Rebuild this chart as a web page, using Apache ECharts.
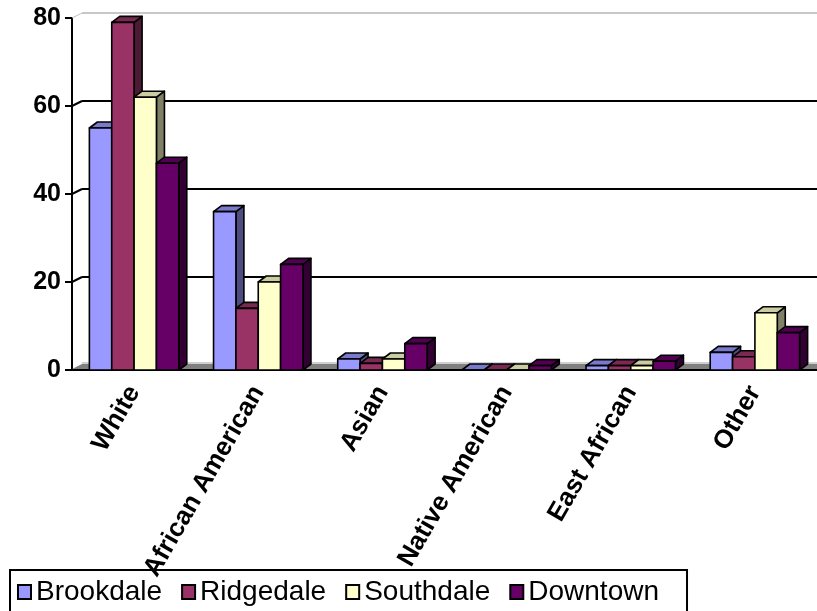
<!DOCTYPE html>
<html>
<head>
<meta charset="utf-8">
<script src="https://cdn.jsdelivr.net/npm/echarts@6/dist/echarts.min.js"></script>
<style>
  html, body { margin: 0; padding: 0; background: #fff; }
  #chart { width: 817px; height: 611px; }
</style>
</head>
<body>
<div id="chart"></div>
<script>
// data
const categories = ['White', 'African American', 'Asian', 'Native American', 'East African', 'Other'];
const brookdale = [55, 36, 2.5, 0, 1, 4];
const ridgedale = [79, 14, 1.5, 0, 1, 3];
const southdale = [62, 20, 2.5, 0, 1, 13];
const downtown = [47, 24, 6, 1, 2, 8.5];
const yTicks = [0, 20, 40, 60, 80];

const FONT = '"Liberation Sans", Arial, sans-serif';
const BAR_FRAC = 0.18;   // width of one bar as part of the category band
const DX = 8, DY = 6;    // bar depth
const WX = 10, WY = 5;   // wall depth

// colours: front / top / side
const districts = [
  { name: 'Brookdale', data: brookdale, front: '#9999FF', top: '#7A7ACC', side: '#4D4D80' },
  { name: 'Ridgedale', data: ridgedale, front: '#993366', top: '#7A2952', side: '#4D1A33' },
  { name: 'Southdale', data: southdale, front: '#FFFFCC', top: '#CCCCA3', side: '#808066' },
  { name: 'Downtown', data: downtown, front: '#660066', top: '#520052', side: '#330033' }
];

const chart = echarts.init(document.getElementById('chart'));

function barRenderer(idx, d){
  return function(params, api){
    const ci = api.value(0);
    const v = api.value(1);
    const band = api.size([1, 0])[0];
    const w = band * BAR_FRAC;
    const pt = api.coord([ci, v]);
    const base = api.coord([ci, 0]);
    const x = pt[0] - 2 * w + idx * w;
    const yt = pt[1], yb = base[1];
    const stroke = { stroke: '#000', lineWidth: 1.6, lineJoin: 'round' };
    return {
      type: 'group',
      children: [
        { type: 'polygon', shape: { points: [[x + w, yt], [x + w + DX, yt - DY], [x + w + DX, yb - DY], [x + w, yb]] },
          style: Object.assign({ fill: d.side }, stroke) },
        { type: 'polygon', shape: { points: [[x, yt], [x + DX, yt - DY], [x + w + DX, yt - DY], [x + w, yt]] },
          style: Object.assign({ fill: d.top }, stroke) },
        { type: 'rect', shape: { x: x, y: yt, width: w, height: yb - yt },
          style: Object.assign({ fill: d.front }, stroke) }
      ]
    };
  };
}

// floor and the little wall connectors on the left
function floorRenderer(params, api){
  const band = api.size([1, 0])[0];
  const p0 = api.coord([0, 0]);
  const p1 = api.coord([categories.length - 1, 0]);
  const xl = p0[0] - band / 2, xr = p1[0] + band / 2 + 20;
  const y0 = p0[1] - 1;
  const children = [
    { type: 'polygon', shape: { points: [[xl, y0], [xl + WX, y0 - WY], [xr + WX, y0 - WY], [xr, y0]] },
      style: { fill: '#808080', stroke: null } },
    { type: 'line', shape: { x1: xl + WX, y1: y0 - WY - 1, x2: xr + WX, y2: y0 - WY - 1 },
      style: { stroke: '#C0C0C0', lineWidth: 1.5 } }
  ];
  yTicks.forEach(t => {
    if (t === 0) return;
    const y = api.coord([0, t])[1];
    const last = t === yTicks[yTicks.length - 1];
    children.push({ type: 'line', shape: { x1: xl, y1: y, x2: xl + WX, y2: y - WY },
      style: { stroke: last ? '#C0C0C0' : '#000', lineWidth: last ? 1 : 2 } });
  });
  return { type: 'group', children: children };
}

const series = [{
  type: 'custom', name: 'floor', xAxisIndex: 0, yAxisIndex: 0, z: 1, silent: true,
  renderItem: floorRenderer, data: [[0, 0]], encode: { x: 0, y: 1 }
}];
districts.forEach((d, i) => {
  series.push({
    type: 'custom', name: d.name, xAxisIndex: 0, yAxisIndex: 0, z: 2,
    renderItem: barRenderer(i, d),
    itemStyle: { color: d.front, borderColor: '#000', borderWidth: 2 },
    data: d.data.map((v, k) => [k, v]),
    encode: { x: 0, y: 1 }
  });
});

const option = {
  backgroundColor: '#fff',
  animation: false,
  grid: [
    { left: 72, top: 18, width: 750, height: 352 },
    { left: 72 + WX, top: 18 - WY, width: 750, height: 352 }
  ],
  legend: {
    data: districts.map(d => d.name),
    left: 10, top: 570,
    padding: [8, 28, 30, 7],
    borderColor: '#000', borderWidth: 2,
    itemWidth: 13, itemHeight: 14, itemGap: 19,
    icon: 'rect',
    textStyle: { fontFamily: FONT, fontSize: 28, color: '#000' }
  },
  xAxis: [
    {
      type: 'category', gridIndex: 0, data: categories,
      axisLine: { lineStyle: { color: '#000', width: 2 } },
      axisTick: { length: 8, lineStyle: { color: '#000', width: 2 } },
      axisLabel: { interval: 0, rotate: 60, margin: 18, color: '#000',
        fontFamily: FONT, fontWeight: 'bold', fontSize: 26 },
      splitLine: { show: false }
    },
    { type: 'category', gridIndex: 1, data: categories, show: false }
  ],
  yAxis: [
    {
      type: 'value', gridIndex: 0, min: 0, max: 80, interval: 20,
      axisLine: { show: true, lineStyle: { color: '#000', width: 2 } },
      axisTick: { show: true, length: 7, lineStyle: { color: '#000', width: 2 } },
      axisLabel: { margin: 11, color: '#000', fontFamily: FONT, fontWeight: 'bold', fontSize: 25 },
      splitLine: { show: false }
    },
    {
      type: 'value', gridIndex: 1, min: 0, max: 80, interval: 20,
      axisLine: { show: false }, axisTick: { show: false }, axisLabel: { show: false },
      splitLine: { show: true, lineStyle: { color: ['#808080', '#000', '#000', '#000', '#C8C8C8'], width: 2 } }
    }
  ],
  series: series
};

chart.setOption(option);
</script>
</body>
</html>
